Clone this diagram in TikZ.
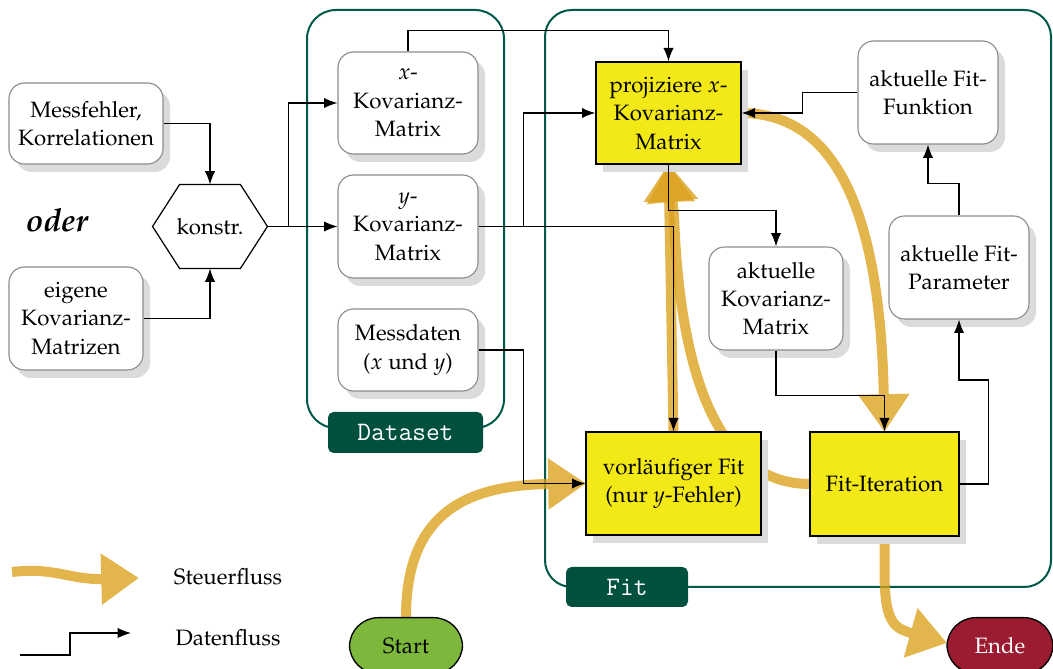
\documentclass[tikz,border=0pt]{standalone}
\usepackage[T1]{fontenc}
\usepackage{mathpazo}
\usetikzlibrary{shapes.misc,shadows,arrows.meta,calc}
\definecolor{contc}{RGB}{0,88,72}
\definecolor{labc}{RGB}{0,80,64}
\definecolor{fitye}{RGB}{243,233,22}
\definecolor{ctrlc}{RGB}{219,160,27}
\definecolor{startc}{RGB}{125,183,60}
\definecolor{endec}{RGB}{155,27,48}
\newcommand\pxl[1]{#1*0.45pt}
\newcommand\labfont{\fontencoding{OT1}\fontfamily{cmtt}\fontsize{13.2}{15}\selectfont}
\tikzset{
  txt/.style={font=\fontsize{10}{12.8}\selectfont, align=center},
  shad/.style={drop shadow={shadow xshift=3.2pt, shadow yshift=-3.6pt, fill=black!14, opacity=1}},
  box/.style={txt, shad, draw=black!45, line width=0.5pt, fill=white, rounded corners=7pt, inner sep=1pt},
  ybox/.style={txt, shad, draw=black, line width=0.6pt, fill=fitye, inner sep=1pt},
  cont/.style={draw=contc, line width=0.9pt, rounded corners=13pt},
  lab/.style={fill=labc, text=white, rounded corners=2.5pt, font=\labfont, inner sep=0pt},
  data/.style={draw=black, line width=0.55pt, -{Latex[length=6pt,width=4.6pt]}},
  ctrl/.style={draw=ctrlc, line width=4.5pt, -{Triangle[length=17pt,width=22pt]}},
  term/.style={txt, draw=black, line width=0.6pt, rounded corners=13pt, inner sep=0pt, anchor=north},
}
\begin{document}
\begin{tikzpicture}[x=0.45pt,y=-0.45pt]
\useasboundingbox (0,0) rectangle (1053,669);
\clip (0,0) rectangle (1053,669);

% containers
\node[cont, minimum width=\pxl{197}, minimum height=\pxl{418}] (dataset) at (405.5,219) {};
\node[cont, rounded corners=12pt, minimum width=\pxl{506}, minimum height=\pxl{577}] (fit) at (798,298.5) {};
\node[lab, minimum width=\pxl{155}, minimum height=\pxl{41}] (dslab) at (405.5,432.5) {Dataset};
\node[lab, minimum width=\pxl{122}, minimum height=\pxl{40}] (fitlab) at (627,587) {Fit};

% anchor points used by control flow (flows lie behind boxes)
\coordinate (projizS) at (668.5,164);
\coordinate (projizE) at (741,113);
\coordinate (vorlN) at (673.5,432);
\coordinate (vorlW) at (586,483.5);
\coordinate (fititW) at (810,484);
\coordinate (fititN) at (884.5,432);
\coordinate (fititS) at (884.5,536);
\coordinate (startN) at (406,617);
\coordinate (endeW) at (947,643);

% legend
\coordinate (sf0) at (12,572);
\coordinate (sf1) at (139,578);
\coordinate (df0) at (20,655);
\coordinate (df1) at (131,633);
\node[txt] (sflbl) at (228,577) {Steuerfluss};
\node[txt] (dflbl) at (228,638) {Datenfluss};

% control flow
\begin{scope}[transparency group, opacity=0.78]
\draw[ctrl] (sf0) .. controls (55,567) and (70,580) .. (sf1);
\end{scope}
\begin{scope}[transparency group, opacity=0.78]
\draw[ctrl] (startN) .. controls (406,510) and (470,485) .. (vorlW);
\end{scope}
\begin{scope}[transparency group, opacity=0.78]
\draw[ctrl] (vorlN) -- (projizS);
\end{scope}
\begin{scope}[transparency group, opacity=0.78]
\draw[ctrl] (fititW) .. controls (720,484) and (680,380) .. (674,215) -- (projizS);
\end{scope}
\begin{scope}[transparency group, opacity=0.78]
\draw[ctrl] (projizE) .. controls (830,113) and (880,200) .. (fititN);
\end{scope}
\begin{scope}[transparency group, opacity=0.78]
\draw[ctrl] (fititS) -- (884.5,570) .. controls (884.5,622) and (893,628) .. (endeW);
\end{scope}

% left side
\node[box, minimum width=\pxl{154}, minimum height=\pxl{81}] (mess) at (86,123.5) {Messfehler,\\Korrelationen};
\node[box, minimum width=\pxl{134}, minimum height=\pxl{103}] (eigene) at (76,318.5) {eigene\\Kovarianz-\\Matrizen};
\node[txt, font=\Large\bfseries\itshape] (oder) at (57,220) {oder};
\node[txt, minimum width=\pxl{114}, minimum height=\pxl{83}, inner sep=0pt] (konstr) at (210,226.5) {konstr.};
\draw[line width=0.55pt] (konstr.west) -- ($(konstr.north west)+(27,0)$) -- ($(konstr.north east)+(-27,0)$) -- (konstr.east) -- ($(konstr.south east)+(-27,0)$) -- ($(konstr.south west)+(27,0)$) -- cycle;

% dataset
\node[box, minimum width=\pxl{140}, minimum height=\pxl{102}] (xkov) at (408,103) {$x$-\\Kovarianz-\\Matrix};
\node[box, minimum width=\pxl{140}, minimum height=\pxl{103}] (ykov) at (408,226.5) {$y$-\\Kovarianz-\\Matrix};
\node[box, minimum width=\pxl{140}, minimum height=\pxl{82}] (messd) at (408,350) {Messdaten\\($x$ und $y$)};

% fit
\node[ybox, minimum width=\pxl{145}, minimum height=\pxl{102}] (projiz) at (668.5,113) {projiziere $x$-\\Kovarianz-\\Matrix};
\node[box, minimum width=\pxl{140}, minimum height=\pxl{103}] (funkt) at (928,92.5) {aktuelle Fit-\\Funktion};
\node[box, minimum width=\pxl{134}, minimum height=\pxl{103}] (akov) at (776,298.5) {aktuelle\\Kovarianz-\\Matrix};
\node[box, minimum width=\pxl{140}, minimum height=\pxl{103}] (fpar) at (959,267.5) {aktuelle Fit-\\Parameter};
\node[ybox, minimum width=\pxl{175}, minimum height=\pxl{103}] (vorl) at (673.5,483.5) {vorläufiger Fit\\(nur $y$-Fehler)};
\node[ybox, minimum width=\pxl{149}, minimum height=\pxl{104}] (fitit) at (884.5,484) {Fit-Iteration};

% terminals
\node[term, fill=startc, minimum width=\pxl{113}, minimum height=\pxl{56}] (start) at (startN) {Start};
\node[term, fill=endec, text=white, minimum width=\pxl{106}, minimum height=\pxl{56}] (ende) at (1000,617) {Ende};

% data flow
\draw[data] (df0) -- (70,655) |- (df1);
\draw[data] (mess.east) -| (konstr.north);
\draw[data] (eigene.east) -| (konstr.south);
\draw[data] (konstr.east) -- ++(21,0) |- (xkov.west);
\draw[data] (konstr.east) -- (ykov.west);
\draw[data] (xkov.north) -- ++(0,-21) -| (projiz.north);
\draw[data] (ykov.east) -- ++(45,0) |- (projiz.west);
\draw[data] (ykov.east) -| (vorl.north);
\draw[data] (messd.east) -- ++(45,0) |- (vorl.west);
\draw[data] (projiz.south) -- ++(0,46) -| (akov.north);
\draw[data] (akov.south) -- ++(0,45) -| (fitit.north);
\draw[data] (fitit.east) -- ++(29,0) -- ++(0,-104) -| (fpar.south);
\draw[data] (fpar.north) -- ++(0,-32) -| (funkt.south);
\draw[data] (funkt.west) -- ++(-55,0) |- (projiz.east);
\end{tikzpicture}
\end{document}
